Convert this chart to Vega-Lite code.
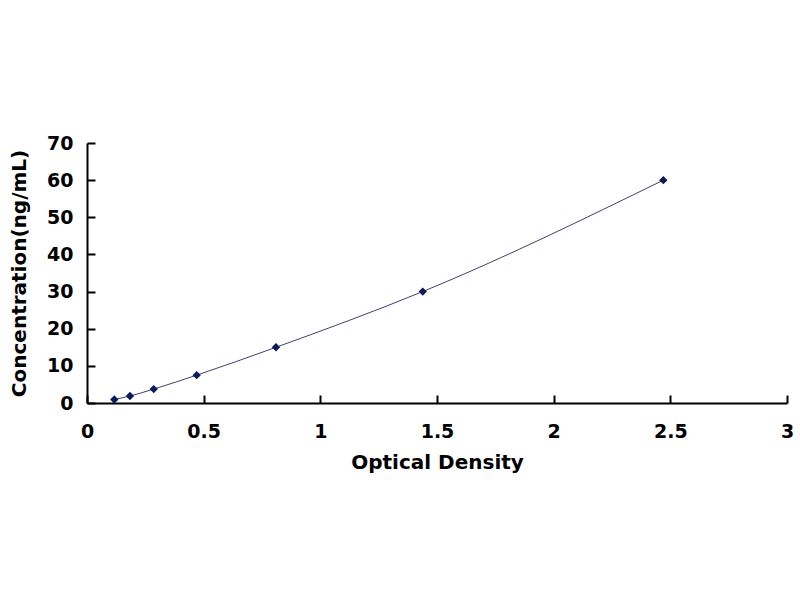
{
  "$schema": "https://vega.github.io/schema/vega-lite/v6.json",
  "autosize": {"type": "none"},
  "padding": {"left": 87, "top": 143, "right": 13, "bottom": 197},
  "width": 700,
  "height": 260,
  "background": "white",
  "view": {"stroke": null},
  "config": {
    "font": "DejaVu Sans",
    "axis": {
      "grid": false,
      "domainColor": "black",
      "domainWidth": 2,
      "tickColor": "black",
      "tickWidth": 2,
      "tickSize": -8,
      "labelFont": "DejaVu Sans",
      "labelFontWeight": "bold",
      "labelFontSize": 19,
      "labelColor": "black",
      "titleFont": "DejaVu Sans",
      "titleFontWeight": "bold",
      "titleFontSize": 20,
      "titleColor": "black"
    }
  },
  "data": {
    "values": [
      {"od": 0.117, "conc": 0.94},
      {"od": 0.184, "conc": 1.88},
      {"od": 0.286, "conc": 3.75},
      {"od": 0.47, "conc": 7.5},
      {"od": 0.81, "conc": 15},
      {"od": 1.439, "conc": 30},
      {"od": 2.47, "conc": 60}
    ]
  },
  "encoding": {
    "x": {
      "field": "od",
      "type": "quantitative",
      "title": "Optical Density",
      "scale": {"domain": [0, 3], "nice": false},
      "axis": {"values": [0, 0.5, 1, 1.5, 2, 2.5, 3], "format": "~g", "labelPadding": 27, "titlePadding": 11, "labelFlush": false}
    },
    "y": {
      "field": "conc",
      "type": "quantitative",
      "title": "Concentration(ng/mL)",
      "scale": {"domain": [0, 70], "nice": false},
      "axis": {"values": [0, 10, 20, 30, 40, 50, 60, 70], "format": "d", "labelPadding": 22, "titlePadding": 17}
    }
  },
  "layer": [
    {
      "mark": {"type": "line", "interpolate": "monotone", "color": "#40407a", "strokeWidth": 1}
    },
    {
      "mark": {"type": "point", "shape": "diamond", "filled": true, "color": "#0b1a5e", "size": 70, "opacity": 1}
    }
  ]
}
